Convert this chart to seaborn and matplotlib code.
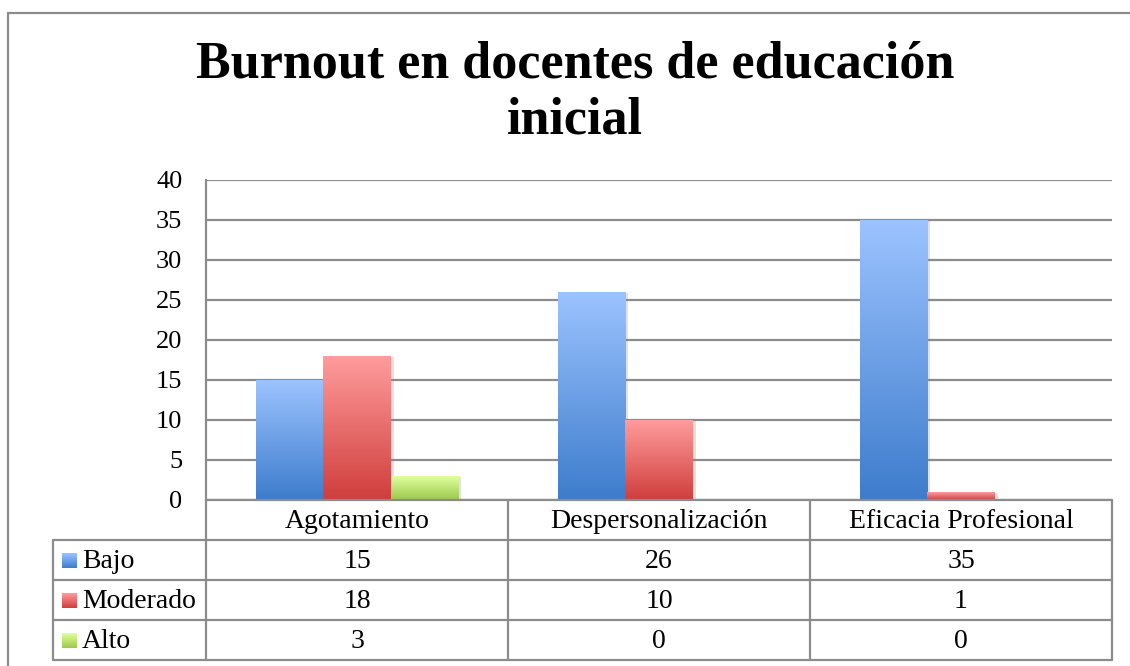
import numpy as np
import pandas as pd
import matplotlib
matplotlib.use("Agg")
import matplotlib.pyplot as plt
import seaborn as sns
from matplotlib.lines import Line2D
import matplotlib.patheffects as pe
from matplotlib.colors import LinearSegmentedColormap
from matplotlib.transforms import blended_transform_factory

# ---------------- data ----------------
categories = ["Agotamiento", "Despersonalización", "Eficacia Profesional"]
series = ["Bajo", "Moderado", "Alto"]
bajo = [15, 26, 35]
moderado = [18, 10, 1]
alto = [3, 0, 0]
yticks = [0, 5, 10, 15, 20, 25, 30, 35, 40]
title_lines = ["Burnout en docentes de educación", "inicial"]

values = {"Bajo": bajo, "Moderado": moderado, "Alto": alto}
df = pd.DataFrame([(c, s, values[s][i]) for s in series for i, c in enumerate(categories)],
                  columns=["cat", "serie", "val"])

base_colors = {"Bajo": "#6699e0", "Moderado": "#e06666", "Alto": "#bfe070"}
grad = {  # (top, bottom)
    "Bajo": ("#9cc3ff", "#3d7ccc"),
    "Moderado": ("#ff9c9c", "#cf3e3c"),
    "Alto": ("#e0ff9e", "#9cc94c"),
}

sns.set_theme(style="white")
plt.rcParams["font.family"] = ["Liberation Serif", "DejaVu Serif"]
plt.rcParams["text.color"] = "black"
plt.rcParams["ytick.color"] = "black"

W, H = 1130, 666
fig = plt.figure(figsize=(W / 100, H / 100), dpi=100)
L, R, T, B = 206, 1112, 180, 500
ax = fig.add_axes([L / W, 1 - B / H, (R - L) / W, (B - T) / H])

sns.barplot(data=df, x="cat", y="val", hue="serie", hue_order=series, order=categories,
            palette=base_colors, width=0.67, gap=0, legend=False, ax=ax,
            saturation=1, edgecolor="none", linewidth=0)

ax.set_ylim(0, 40)
ax.set_xlim(-0.5, len(categories) - 0.5)
ax.set_yticks(yticks)
ax.set_yticklabels([str(v) for v in yticks], fontsize=19, color="black")
ax.tick_params(axis="y", length=0, pad=17)
ax.set_xticks([])
ax.set_xlabel("")
ax.set_ylabel("")
ax.set_axisbelow(True)
ax.yaxis.grid(True, color="#8c8c8c", linewidth=1.6)
for s in ["top", "right", "bottom"]:
    ax.spines[s].set_visible(False)
ax.spines["left"].set_color("#8c8c8c")
ax.spines["left"].set_linewidth(1.6)


def gradient_cmap(name):
    top, bot = grad[name]
    return LinearSegmentedColormap.from_list(name, [bot, top])


color_to_name = {tuple(np.round(matplotlib.colors.to_rgba(c), 3)): n for n, c in base_colors.items()}
grad_img = np.linspace(0, 1, 256).reshape(-1, 1)
for p in ax.patches:
    key = tuple(np.round(p.get_facecolor(), 3))
    name = color_to_name.get(key)
    if name is None:
        continue
    x0, y0 = p.get_x(), p.get_y()
    w, h = p.get_width(), p.get_height()
    if h <= 0:
        p.set_visible(False)
        continue
    p.set_path_effects([pe.SimplePatchShadow(offset=(2, -1), shadow_rgbFace="#888888", alpha=0.25),
                        pe.Normal()])
    p.set_zorder(3)
    im = ax.imshow(grad_img, extent=[x0, x0 + w, y0, y0 + h], origin="lower",
                   cmap=gradient_cmap(name), aspect="auto", zorder=4, interpolation="bilinear")
    im.set_clip_path(p)
ax.set_xlim(-0.5, len(categories) - 0.5)
ax.set_ylim(0, 40)

# ---------------- data table ----------------
lc = "#8c8c8c"
lw = 1.6
def ay(py):
    return (B - py) / (B - T)
def axx(px):
    return (px - L) / (R - L)

tr = ax.transAxes
row_lines = [540, 580, 620, 660]
left_tab = 53
ax.add_line(Line2D([0, 1], [0, 0], transform=tr, color=lc, lw=lw, clip_on=False, zorder=5))
for yy in row_lines:
    ax.add_line(Line2D([axx(left_tab), 1], [ay(yy), ay(yy)], transform=tr, color=lc, lw=lw, clip_on=False))
for xx in [0, 1 / 3, 2 / 3, 1]:
    ax.add_line(Line2D([xx, xx], [0, ay(660)], transform=tr, color=lc, lw=lw, clip_on=False))
ax.add_line(Line2D([axx(left_tab), axx(left_tab)], [ay(540), ay(660)], transform=tr, color=lc, lw=lw, clip_on=False))

btr = blended_transform_factory(ax.transData, ax.transAxes)
fs = 20
for i, c in enumerate(categories):
    ax.text(i, ay(521), c, transform=btr, ha="center", va="center", fontsize=fs, clip_on=False, color="black")
for r, s in enumerate(series):
    yc = ay(561 + 40 * r)
    for i in range(len(categories)):
        ax.text(i, yc, str(values[s][i]), transform=btr, ha="center", va="center", fontsize=fs,
                clip_on=False, color="black")
    kx0, kx1 = axx(62), axx(77)
    ky0, ky1 = ay(568 + 40 * r), ay(553 + 40 * r)
    ax.imshow(grad_img, extent=[kx0, kx1, ky0, ky1], transform=tr, origin="lower",
              cmap=gradient_cmap(s), aspect="auto", clip_on=False, zorder=5)
    ax.text(axx(82), yc, s, transform=tr, ha="left", va="center", fontsize=fs, clip_on=False, color="black")

ax.set_xlim(-0.5, len(categories) - 0.5)
ax.set_ylim(0, 40)

# ---------------- title & frame ----------------
for k, (line, yb) in enumerate(zip(title_lines, [78, 134])):
    fig.text(575 / W, 1 - yb / H, line, ha="center", va="baseline", fontsize=37.5,
             fontweight="bold", family="Liberation Serif", color="black")

fig.add_artist(Line2D([8 / W, 8 / W], [0, 1 - 13 / H], transform=fig.transFigure, color="#8c8c8c", lw=1.6))
fig.add_artist(Line2D([8 / W, 1], [1 - 13 / H, 1 - 13 / H], transform=fig.transFigure, color="#8c8c8c", lw=1.6))

fig.savefig("out.png", dpi=100)
